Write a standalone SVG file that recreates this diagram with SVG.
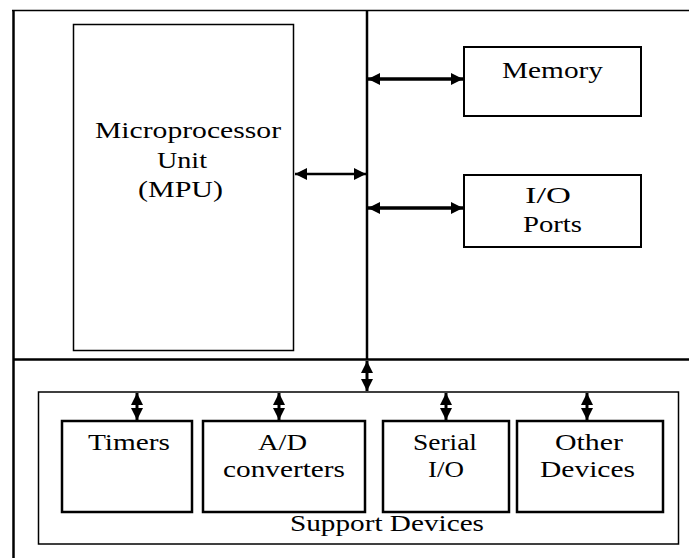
<svg xmlns="http://www.w3.org/2000/svg" width="689" height="558" viewBox="0 0 689 558">
<style>
  .lbl { font-family: "Liberation Serif", "Times New Roman", serif; font-size: 24px; fill: #000; }
  .box { fill: #fff; stroke: #000; }
  .thin { stroke-width: 1.5; }
  .thick { stroke-width: 2.5; }
  .conn { stroke: #000; fill: none; marker-start: url(#ah); marker-end: url(#ah); }
</style>
<defs>
  <marker id="ah" markerUnits="userSpaceOnUse" markerWidth="13" markerHeight="12" refX="12" refY="6" orient="auto-start-reverse">
    <path d="M0,0 L12,6 L0,12 Z" fill="#000"/>
  </marker>
</defs>
<rect width="689" height="558" fill="#fff"/>

<g id="frame">
  <line x1="12" y1="10.5" x2="689" y2="10.5" stroke="#000" stroke-width="1.5"/>
  <line x1="13.5" y1="10" x2="13.5" y2="558" stroke="#000" stroke-width="2.5"/>
  <line x1="13" y1="359.5" x2="689" y2="359.5" stroke="#000" stroke-width="2.5"/>
</g>

<g id="bus">
  <line x1="367" y1="10" x2="367" y2="359" stroke="#000" stroke-width="2.5"/>
</g>

<g id="mpu">
  <rect class="box thin" x="73.5" y="24.5" width="220" height="326"/>
  <text class="lbl" x="95" y="138" textLength="186" lengthAdjust="spacingAndGlyphs">Microprocessor</text>
  <text class="lbl" x="157" y="168" textLength="50" lengthAdjust="spacingAndGlyphs">Unit</text>
  <text class="lbl" x="138" y="197" textLength="85" lengthAdjust="spacingAndGlyphs">(MPU)</text>
</g>

<g id="memory">
  <rect class="box" stroke-width="2" x="464" y="47" width="177" height="69"/>
  <text class="lbl" x="502" y="78" textLength="101" lengthAdjust="spacingAndGlyphs">Memory</text>
</g>

<g id="io">
  <rect class="box" stroke-width="2" x="464" y="175" width="177" height="72"/>
  <text class="lbl" x="525" y="203" textLength="46" lengthAdjust="spacingAndGlyphs">I/O</text>
  <text class="lbl" x="523" y="232" textLength="59" lengthAdjust="spacingAndGlyphs">Ports</text>
</g>

<g id="support">
  <rect class="box thin" x="38.5" y="392" width="640" height="152"/>
  <text class="lbl" x="290" y="531" textLength="194" lengthAdjust="spacingAndGlyphs">Support Devices</text>
</g>

<g id="timers">
  <rect class="box thick" x="62" y="421" width="130" height="91"/>
  <text class="lbl" x="88" y="450" textLength="82" lengthAdjust="spacingAndGlyphs">Timers</text>
</g>

<g id="adc">
  <rect class="box thick" x="203" y="421" width="162" height="91"/>
  <text class="lbl" x="258" y="450" textLength="49" lengthAdjust="spacingAndGlyphs">A/D</text>
  <text class="lbl" x="223" y="477" textLength="122" lengthAdjust="spacingAndGlyphs">converters</text>
</g>

<g id="serial">
  <rect class="box thick" x="383" y="421" width="126" height="91"/>
  <text class="lbl" x="413" y="450" textLength="64" lengthAdjust="spacingAndGlyphs">Serial</text>
  <text class="lbl" x="428" y="477" textLength="36" lengthAdjust="spacingAndGlyphs">I/O</text>
</g>

<g id="other">
  <rect class="box thick" x="517" y="421" width="146" height="91"/>
  <text class="lbl" x="555" y="450" textLength="68" lengthAdjust="spacingAndGlyphs">Other</text>
  <text class="lbl" x="540" y="477" textLength="95" lengthAdjust="spacingAndGlyphs">Devices</text>
</g>

<g id="connectors">
  <line class="conn" x1="295" y1="174" x2="366" y2="174" stroke-width="2.5"/>
  <line class="conn" x1="368" y1="79" x2="463" y2="79" stroke-width="3.5"/>
  <line class="conn" x1="368" y1="208" x2="463" y2="208" stroke-width="3.5"/>
  <line class="conn" x1="367" y1="361" x2="367" y2="391" stroke-width="3"/>
  <line class="conn" x1="137" y1="393" x2="137" y2="420" stroke-width="3"/>
  <line class="conn" x1="279" y1="393" x2="279" y2="420" stroke-width="3"/>
  <line class="conn" x1="446" y1="393" x2="446" y2="420" stroke-width="3"/>
  <line class="conn" x1="587" y1="393" x2="587" y2="420" stroke-width="3"/>
</g>
</svg>
